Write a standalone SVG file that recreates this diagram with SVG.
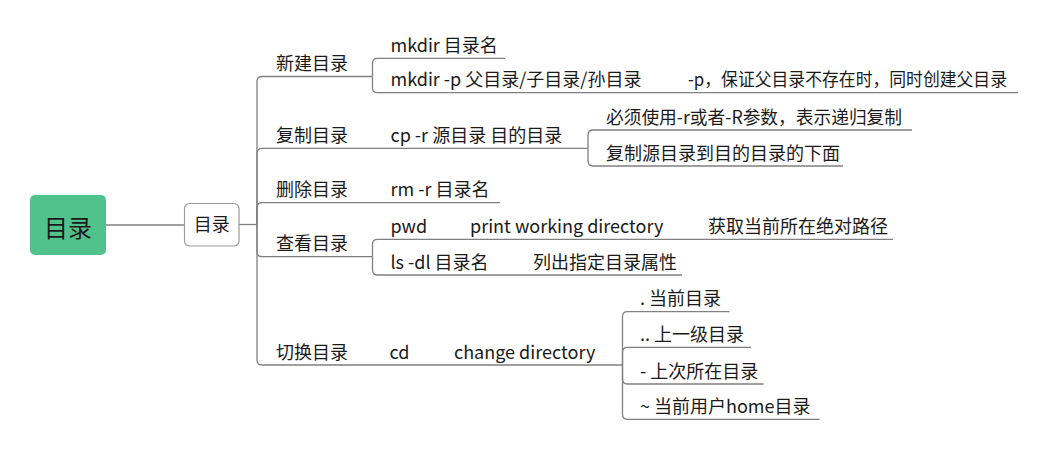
<svg xmlns="http://www.w3.org/2000/svg" width="1060" height="449" viewBox="0 0 1060 449">
<style>
  text { font-family: "Noto Sans CJK SC", "Noto Sans", sans-serif; font-size: 18px; fill: #1a1a1a; }
  .root-t { font-size: 24px; }
  .ln { fill: none; stroke: #808080; stroke-width: 1.3; }
</style>
<rect width="1060" height="449" fill="#ffffff"/>
<g id="connectors">
  <path class="ln" d="M106 225 H184"/>
  <path class="ln" d="M239 224.5 H257"/>
  <path class="ln" d="M257 224 V81.5 Q257 76.5 262 76.5 H372"/>
  <path class="ln" d="M257 224 V153.3 Q257 148.3 262 148.3 H588"/>
  <path class="ln" d="M257 224 V207.7 Q257 202.7 262 202.7 H500"/>
  <path class="ln" d="M257 224 V251.7 Q257 256.7 262 256.7 H372.5"/>
  <path class="ln" d="M257 224 V360 Q257 365 262 365 H622.5"/>
  <path class="ln" d="M372.5 76.5 V63.3 Q372.5 58.3 377.5 58.3 H505"/>
  <path class="ln" d="M372.5 76.5 V87.7 Q372.5 92.7 377.5 92.7 H1018"/>
  <path class="ln" d="M588 148.3 V135 Q588 130 593 130 H912"/>
  <path class="ln" d="M588 148.3 V161 Q588 166 593 166 H843"/>
  <path class="ln" d="M372.5 256.7 V244.3 Q372.5 239.3 377.5 239.3 H893"/>
  <path class="ln" d="M372.5 256.7 V270 Q372.5 275 377.5 275 H682"/>
  <path class="ln" d="M622.5 365 V316.7 Q622.5 311.7 627.5 311.7 H729.5"/>
  <path class="ln" d="M622.5 365 V352.3 Q622.5 347.3 627.5 347.3 H751"/>
  <path class="ln" d="M622.5 365 V379 Q622.5 384 627.5 384 H763.5"/>
  <path class="ln" d="M622.5 365 V414.3 Q622.5 419.3 627.5 419.3 H819.5"/>
</g>
<g id="root">
  <rect x="30" y="195" width="76" height="60" rx="5" fill="#52c28c"/>
  <text class="root-t" x="68" y="237" text-anchor="middle">目录</text>
</g>
<g id="n-main">
  <rect x="184.5" y="203.5" width="54.5" height="42.5" rx="5" fill="#ffffff" stroke="#9a9a9a" stroke-width="1.2"/>
  <text x="211.7" y="231" text-anchor="middle">目录</text>
</g>
<g id="n-new"><text x="276" y="70">新建目录</text></g>
<g id="n-mkdir"><text x="390.5" y="51.5">mkdir 目录名</text></g>
<g id="n-mkdirp"><text x="390.5" y="86">mkdir -p 父目录/子目录/孙目录</text></g>
<g id="n-mkdirp-desc"><text x="688" y="86" textLength="319" lengthAdjust="spacingAndGlyphs">-p，保证父目录不存在时，同时创建父目录</text></g>
<g id="n-copy"><text x="276" y="141.8">复制目录</text></g>
<g id="n-cp"><text x="390.5" y="141.8">cp -r 源目录 目的目录</text></g>
<g id="n-cp-r"><text x="606" y="123.5" textLength="296" lengthAdjust="spacingAndGlyphs">必须使用-r或者-R参数，表示递归复制</text></g>
<g id="n-cp-desc"><text x="606" y="159.5">复制源目录到目的目录的下面</text></g>
<g id="n-del"><text x="276" y="196.2">删除目录</text></g>
<g id="n-rm"><text x="390.5" y="196.2">rm -r 目录名</text></g>
<g id="n-view"><text x="276" y="250.2">查看目录</text></g>
<g id="n-pwd"><text x="390.5" y="232.8">pwd</text></g>
<g id="n-pwd-en"><text x="470" y="232.8">print working directory</text></g>
<g id="n-pwd-desc"><text x="708" y="232.8">获取当前所在绝对路径</text></g>
<g id="n-ls"><text x="390.5" y="268.5">ls -dl 目录名</text></g>
<g id="n-ls-desc"><text x="533" y="268.5">列出指定目录属性</text></g>
<g id="n-switch"><text x="276" y="358.5">切换目录</text></g>
<g id="n-cd"><text x="389.5" y="358.5">cd</text></g>
<g id="n-cd-en"><text x="454" y="358.5">change directory</text></g>
<g id="n-cd-dot"><text x="640" y="305.2">. 当前目录</text></g>
<g id="n-cd-dotdot"><text x="640" y="340.8">.. 上一级目录</text></g>
<g id="n-cd-dash"><text x="640" y="377.5">- 上次所在目录</text></g>
<g id="n-cd-home"><text x="640" y="412.8">~ 当前用户home目录</text></g>
</svg>
